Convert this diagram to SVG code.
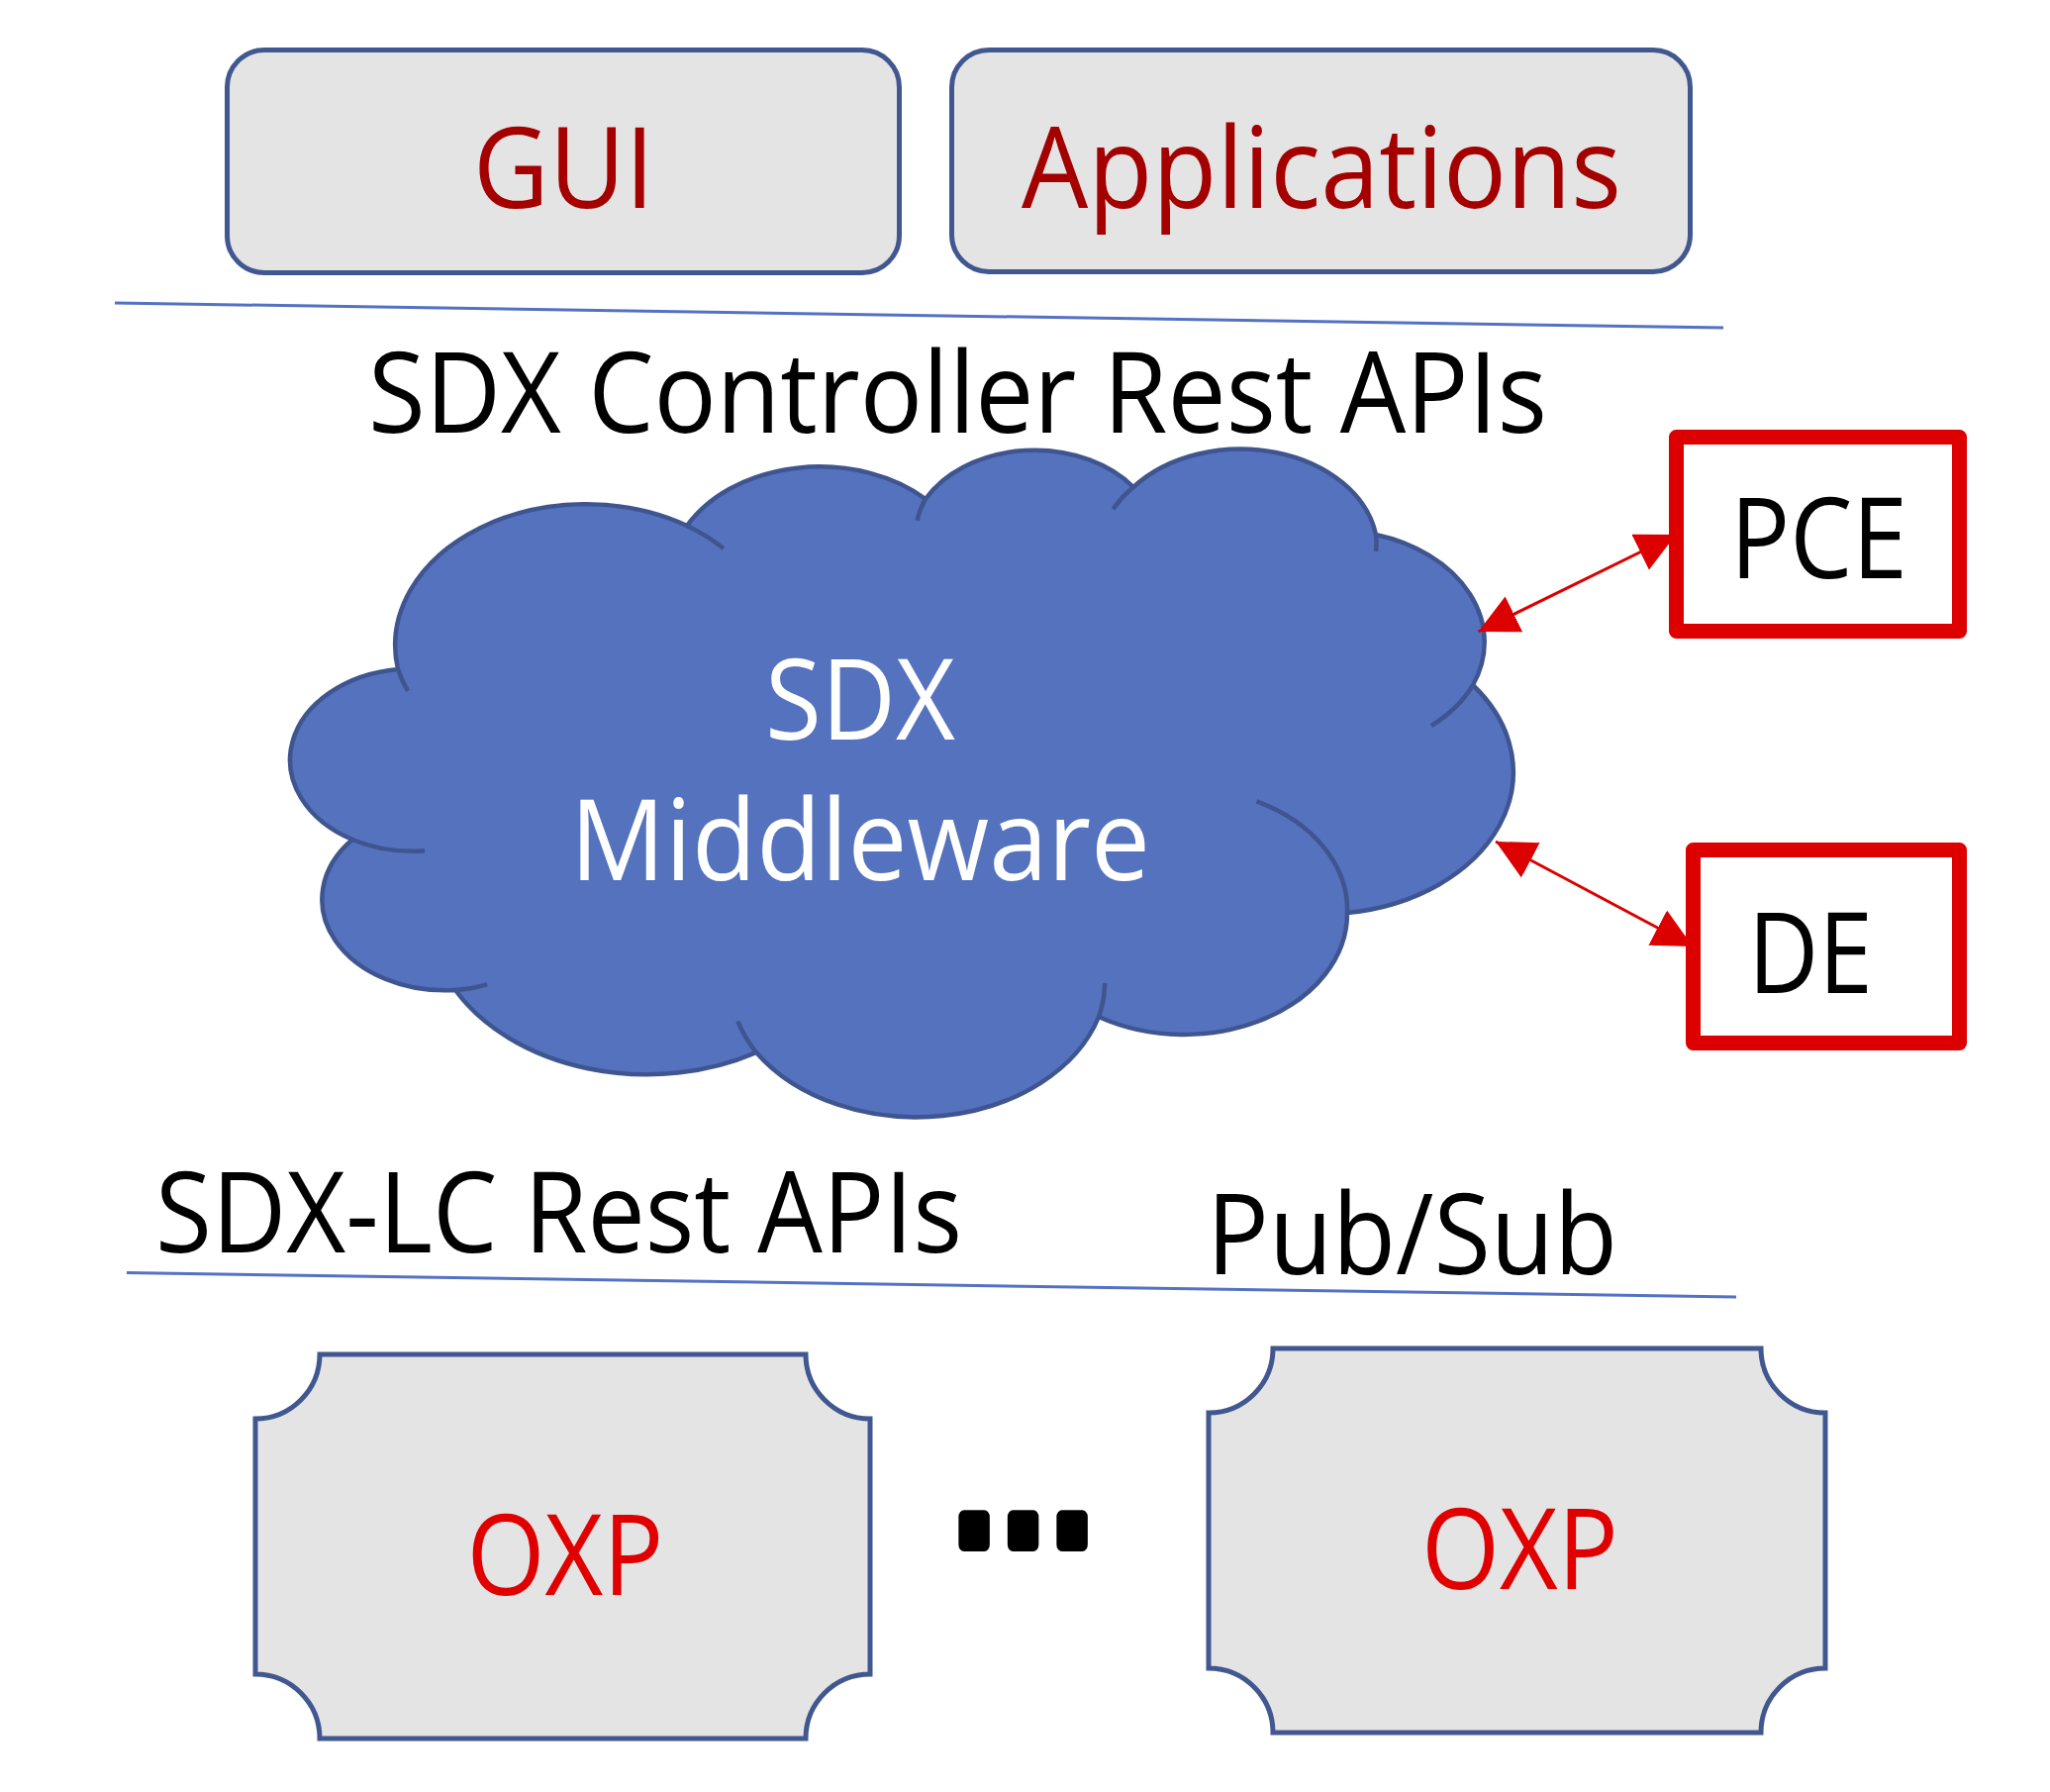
<svg xmlns="http://www.w3.org/2000/svg" width="2071" height="1810" viewBox="0 0 2071 1810">
<defs>
<style>
.box{fill:#E4E4E4;stroke:#41578F;stroke-width:5}
.t{font-family:'Open Sans','Noto Sans','DejaVu Sans',sans-serif;font-size:113px;text-anchor:middle}
.blk{fill:#000}
.red{fill:#E00000}
.dred{fill:#A50000}
.wht{fill:#FFFFFF}
.sep{stroke:#5472C4;stroke-width:3;fill:none}
.cloud{fill:#5572BE;stroke:#3F5590;stroke-width:4.5;stroke-linejoin:round}
.wr{fill:none;stroke:#3F5590;stroke-width:4.5}
.rbox{fill:#FFFFFF;stroke:#DC0000;stroke-width:15;stroke-linejoin:round}
.conn{stroke:#DC0000;stroke-width:3;fill:none}
.dots{font-family:'Liberation Sans',Arial,sans-serif;font-weight:bold;font-size:158px;letter-spacing:9.9px;fill:#000;stroke:#000;stroke-width:12;stroke-linejoin:round}
</style>
<marker id="ah" viewBox="0 0 40 40" refX="40" refY="20" markerWidth="40" markerHeight="40" markerUnits="userSpaceOnUse" orient="auto-start-reverse">
<path d="M0,0 L40,20 L0,40 z" fill="#DC0000"/>
</marker>
</defs>
<rect x="0" y="0" width="2071" height="1810" fill="#FFFFFF"/>

<g id="gui">
<rect class="box" x="229.5" y="50.5" width="679" height="225" rx="37.5" ry="37.5"/>
<text class="t dred" x="569.5" y="210" textLength="183" lengthAdjust="spacingAndGlyphs">GUI</text>
</g>
<g id="applications">
<rect class="box" x="961.5" y="50.5" width="746" height="224" rx="37.5" ry="37.5"/>
<text class="t dred" x="1335" y="210" textLength="606" lengthAdjust="spacingAndGlyphs">Applications</text>
</g>

<g id="separators">
<line class="sep" x1="116" y1="306" x2="1741" y2="331"/>
<line class="sep" x1="128" y1="1285.5" x2="1754" y2="1310"/>
</g>

<g id="label-controller-apis">
<text class="t blk" x="967.5" y="437" textLength="1191" lengthAdjust="spacingAndGlyphs">SDX Controller Rest APIs</text>
</g>

<g id="sdx-middleware">
<path class="cloud" d="M402,676 A192.6,142.7 0 0 1 694,531 A152.1,112.9 0 0 1 935,504 A124.5,92.3 0 0 1 1145,492 A138.5,102.4 0 0 1 1390,540 A152.1,113 0 0 1 1488,692 A193.2,143.2 0 0 1 1361,922 A165,122.2 0 0 1 1110,1027 A192.6,143.1 0 0 1 764,1063 A220.2,163.7 0 0 1 460,1000 A124.3,91.9 0 0 1 356,848 A123.9,92.3 0 0 1 402,676 Z"/>
<path class="wr" d="M694,531 A192.6,142.7 0 0 1 731,554 M402,676 A192.6,142.7 0 0 0 412,698 M935,504 A124.5,92.3 0 0 0 926.5,525.7 M1145,492 A138.5,102.4 0 0 0 1124.5,514.3 M1390,540 A138.5,102.4 0 0 1 1390,557 M1488,692 A152.1,113 0 0 1 1446,733 M1269.4,809.4 A165,122.2 0 0 1 1361,922 M1110,1027 A192.6,143.1 0 0 0 1116.3,993 M764,1063 A192.6,143.1 0 0 1 745.3,1031.7 M460,1000 A124.3,91.9 0 0 0 492.2,994.3 M356,848 A123.9,92.3 0 0 0 429,859.2"/>
<text class="t wht" x="869" y="746.5" textLength="192" lengthAdjust="spacingAndGlyphs">SDX</text>
<text class="t wht" x="869" y="889" textLength="586" lengthAdjust="spacingAndGlyphs">Middleware</text>
</g>

<g id="connectors">
<line class="conn" x1="1493.5" y1="638" x2="1693" y2="540" marker-start="url(#ah)" marker-end="url(#ah)"/>
<line class="conn" x1="1511" y1="850" x2="1710" y2="956" marker-start="url(#ah)" marker-end="url(#ah)"/>
</g>

<g id="pce">
<rect class="rbox" x="1693.5" y="441.5" width="286" height="196"/>
<text class="t blk" x="1837.5" y="583.5" textLength="179" lengthAdjust="spacingAndGlyphs">PCE</text>
</g>
<g id="de">
<rect class="rbox" x="1710.5" y="858.5" width="269" height="195"/>
<text class="t blk" x="1829" y="1003" textLength="126" lengthAdjust="spacingAndGlyphs">DE</text>
</g>

<g id="label-lc-apis">
<text class="t blk" x="564.5" y="1264.5" textLength="815" lengthAdjust="spacingAndGlyphs">SDX-LC Rest APIs</text>
</g>
<g id="label-pubsub">
<text class="t blk" x="1426.5" y="1287" textLength="415" lengthAdjust="spacingAndGlyphs">Pub/Sub</text>
</g>

<g id="oxp-1">
<path class="box" d="M323,1368 H814 A65,65 0 0 0 879,1433 V1691 A65,65 0 0 0 814,1756 H323 A65,65 0 0 0 258,1691 V1433 A65,65 0 0 0 323,1368 Z"/>
<text class="t red" x="571" y="1611" textLength="199" lengthAdjust="spacingAndGlyphs">OXP</text>
</g>
<g id="ellipsis">
<text class="dots" transform="translate(964,1560) scale(0.92,1.18)" x="0" y="0">...</text>
</g>
<g id="oxp-2">
<path class="box" d="M1286,1362 H1779 A65,65 0 0 0 1844,1427 V1685 A65,65 0 0 0 1779,1750 H1286 A65,65 0 0 0 1221,1685 V1427 A65,65 0 0 0 1286,1362 Z"/>
<text class="t red" x="1535.5" y="1604.5" textLength="199" lengthAdjust="spacingAndGlyphs">OXP</text>
</g>
</svg>
